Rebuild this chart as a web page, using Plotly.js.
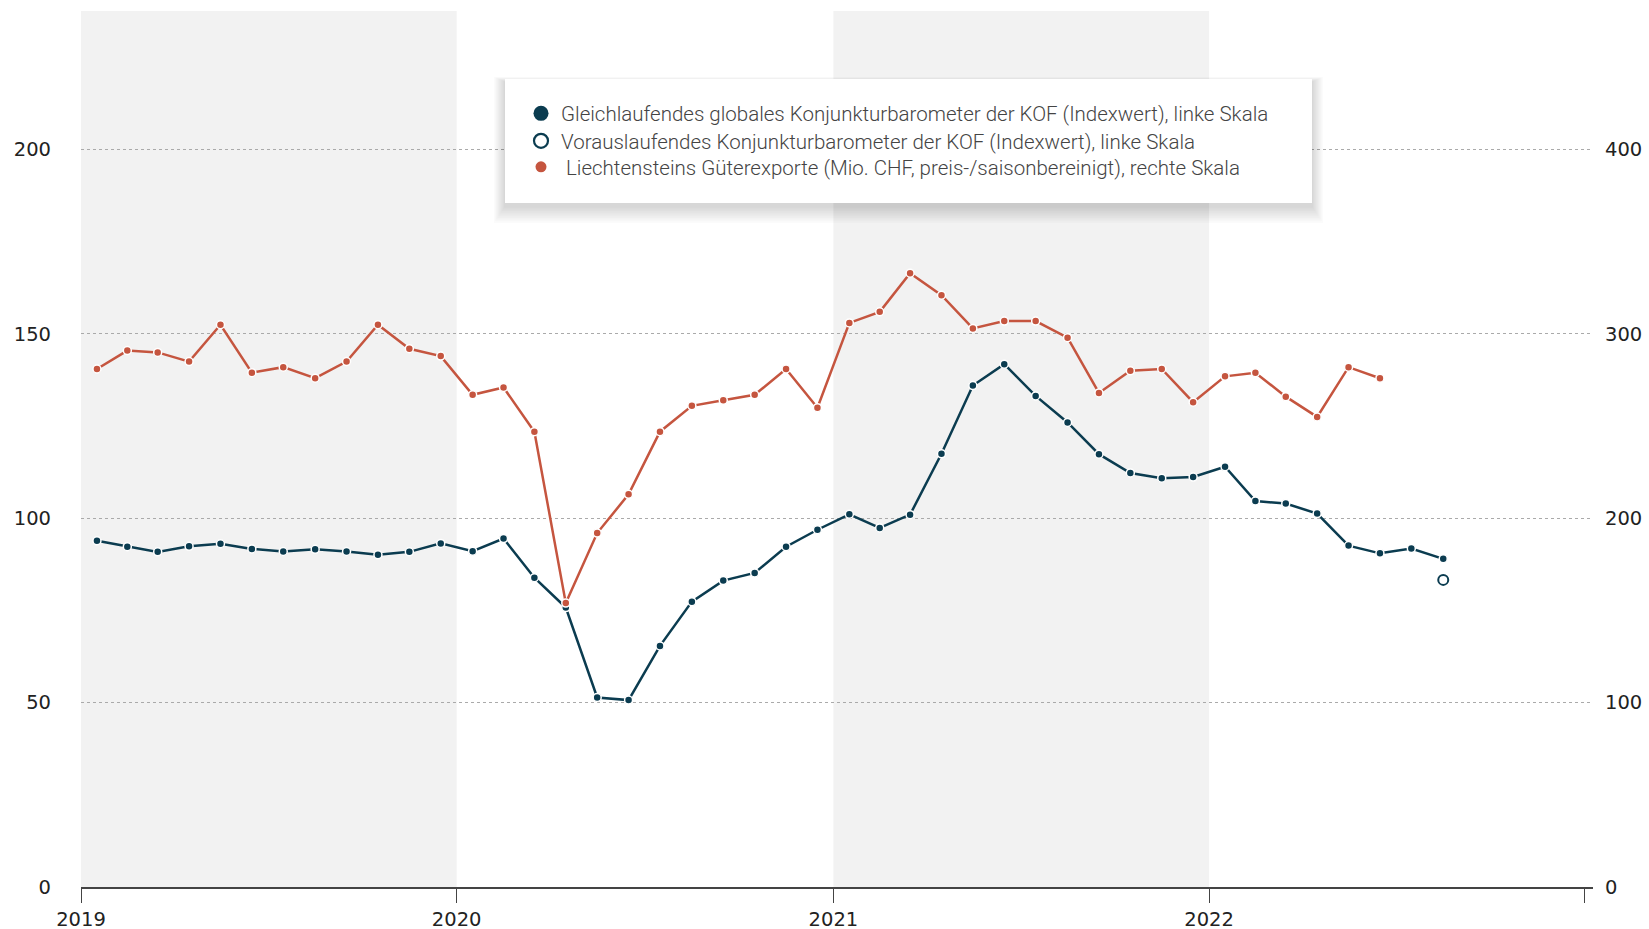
<!DOCTYPE html>
<html><head><meta charset="utf-8">
<script src="https://cdn.plot.ly/plotly-3.0.1.min.js"></script>
<style>html,body{margin:0;padding:0;background:#fff}#chart{width:1649px;height:929px}</style>
</head><body><div id="chart"></div>
<script>
// ---- data ----
const months = [
  '2019-01','2019-02','2019-03','2019-04','2019-05','2019-06','2019-07','2019-08','2019-09','2019-10','2019-11','2019-12',
  '2020-01','2020-02','2020-03','2020-04','2020-05','2020-06','2020-07','2020-08','2020-09','2020-10','2020-11','2020-12',
  '2021-01','2021-02','2021-03','2021-04','2021-05','2021-06','2021-07','2021-08','2021-09','2021-10','2021-11','2021-12',
  '2022-01','2022-02','2022-03','2022-04','2022-05','2022-06','2022-07','2022-08'
];
// Gleichlaufendes globales Konjunkturbarometer der KOF (linke Skala)
const kofCoincident = [
  93.9, 92.3, 90.9, 92.4, 93.1, 91.7, 91.0, 91.6, 91.0, 90.1, 90.9, 93.2,
  91.1, 94.5, 83.9, 75.8, 51.4, 50.7, 65.4, 77.4, 83.1, 85.2, 92.3, 96.9,
  101.1, 97.4, 101.0, 117.5, 136.0, 141.8, 133.2, 126.0, 117.4, 112.3, 110.9, 111.2,
  114.0, 104.7, 104.0, 101.3, 92.6, 90.5, 91.8, 89.0
];
// Vorauslaufendes Konjunkturbarometer der KOF (linke Skala)
const kofLeadingMonths = ['2022-08'];
const kofLeading = [83.3];
// Liechtensteins Güterexporte (rechte Skala)
const exportMonths = months.slice(0, 42);
const exports = [
  281, 291, 290, 285, 305, 279, 282, 276, 285, 305, 292, 288,
  267, 271, 247, 154, 192, 213, 247, 261, 264, 267, 281, 260,
  306, 312, 333, 321, 303, 307, 307, 298, 268, 280, 281, 263,
  277, 279, 266, 255, 282, 276
];
const seriesNames = [
  'Gleichlaufendes globales Konjunkturbarometer der KOF (Indexwert), linke Skala',
  'Vorauslaufendes Konjunkturbarometer der KOF (Indexwert), linke Skala',
  '\u00a0Liechtensteins Güterexporte (Mio. CHF, preis-/saisonbereinigt), rechte Skala'
];
const yearTicks = ['2019-01-01','2020-01-01','2021-01-01','2022-01-01','2023-01-01'];
const yearTickLabels = ['2019','2020','2021','2022',''];
const leftTicks = [0, 50, 100, 150, 200];
const rightTicks = [0, 100, 200, 300, 400];
const shadedPeriods = [['2019-01-01','2020-01-01'], ['2021-01-01','2022-01-01']];

// ---- style ----
const BLUE = '#0b3c50';
const RED = '#c5553f';
const tickFont = {family: 'DejaVu Sans, Liberation Sans, Arial, sans-serif', size: 19.5, color: '#222'};
const legendFont = {family: 'Roboto, sans-serif', size: 20.5, weight: 300, color: '#444'};

// plot geometry (pixels) for paper-coordinate placement
const W = 1649, H = 929, ML = 81, MR = 56, MT = 11, MB = 42;
const PW = W - ML - MR, PH = H - MT - MB;
const px = v => (v - ML) / PW;
const py = v => (H - MB - v) / PH;

const traces = [
  {x: months, y: kofCoincident, type: 'scatter', mode: 'lines+markers',
   xperiod: 'M1', xperiodalignment: 'middle',
   line: {color: BLUE, width: 2.5},
   marker: {size: 8, color: BLUE, line: {color: '#fff', width: 1.5}},
   showlegend: false, hoverinfo: 'skip'},
  {x: kofLeadingMonths, y: kofLeading, type: 'scatter', mode: 'markers',
   xperiod: 'M1', xperiodalignment: 'middle',
   marker: {size: 10, color: '#fff', line: {color: BLUE, width: 2}},
   showlegend: false, hoverinfo: 'skip'},
  {x: exportMonths, y: exports, type: 'scatter', mode: 'lines+markers', yaxis: 'y2',
   xperiod: 'M1', xperiodalignment: 'middle',
   line: {color: RED, width: 2.5},
   marker: {size: 8, color: RED, line: {color: '#fff', width: 1.5}},
   showlegend: false, hoverinfo: 'skip'},
  // legend entries (one legend per row)
  {x: [null], y: [null], type: 'scatter', mode: 'markers', name: seriesNames[0], legend: 'legend',
   marker: {size: 15, color: BLUE}},
  {x: [null], y: [null], type: 'scatter', mode: 'markers', name: seriesNames[1], legend: 'legend2',
   marker: {size: 14, color: '#fff', line: {color: BLUE, width: 2.2}}},
  {x: [null], y: [null], type: 'scatter', mode: 'markers', name: seriesNames[2], legend: 'legend3',
   marker: {size: 11, color: RED}}
];

const shapes = shadedPeriods.map(p => ({
  type: 'rect', xref: 'x', yref: 'paper', x0: p[0], x1: p[1], y0: 0, y1: 1,
  fillcolor: '#f2f2f2', line: {width: 0}, layer: 'below'
}));
// legend box with soft shadow
const box = {l: 505, r: 1312, t: 79, b: 203};
for (let i = 10; i >= 1; i--) {
  shapes.push({type: 'rect', xref: 'paper', yref: 'paper',
    x0: px(box.l - i * 1.1), x1: px(box.r + i * 1.1),
    y0: py(box.b + 3 + i * 1.7), y1: py(box.t - i * 0.5 + 3),
    fillcolor: 'rgba(0,0,0,0.015)', line: {width: 0}, layer: 'above'});
}
shapes.push({type: 'rect', xref: 'paper', yref: 'paper',
  x0: px(box.l), x1: px(box.r), y0: py(box.b), y1: py(box.t),
  fillcolor: '#ffffff', line: {width: 0}, layer: 'above'});

const rowCenters = [113.5, 141, 167];
const legendBase = {xanchor: 'left', yanchor: 'middle', bgcolor: 'rgba(0,0,0,0)',
  borderwidth: 0, font: legendFont, x: px(521)};
const axisCommon = {fixedrange: true, tickfont: tickFont, zeroline: false};

const layout = {
  width: W, height: H,
  margin: {l: ML, r: MR, t: MT, b: MB, pad: 0},
  paper_bgcolor: '#fff', plot_bgcolor: '#fff',
  showlegend: true,
  legend: Object.assign({}, legendBase, {y: py(rowCenters[0])}),
  legend2: Object.assign({}, legendBase, {y: py(rowCenters[1])}),
  legend3: Object.assign({}, legendBase, {y: py(rowCenters[2])}),
  xaxis: Object.assign({}, axisCommon, {type: 'date', range: ['2019-01-01', '2023-01-09'],
    tickmode: 'array', tickvals: yearTicks, ticktext: yearTickLabels,
    ticks: 'outside', ticklen: 14, tickwidth: 1, tickcolor: '#444',
    showline: true, linecolor: '#444', linewidth: 2,
    showgrid: false, ticklabelstandoff: 0}),
  yaxis: Object.assign({}, axisCommon, {range: [0, 237.6], tickmode: 'array', tickvals: leftTicks,
    showgrid: true, gridcolor: '#aaaaaa', gridwidth: 1, griddash: 'dot',
    showline: false, ticks: '', ticklabelstandoff: 29}),
  yaxis2: Object.assign({}, axisCommon, {range: [0, 475.2], overlaying: 'y', side: 'right', tickmode: 'array',
    tickvals: rightTicks, showgrid: false, showline: false,
    ticks: '', ticklabelstandoff: 11}),
  shapes: shapes
};

Plotly.newPlot('chart', traces, layout, {displayModeBar: false, staticPlot: true});
</script>
</body></html>
